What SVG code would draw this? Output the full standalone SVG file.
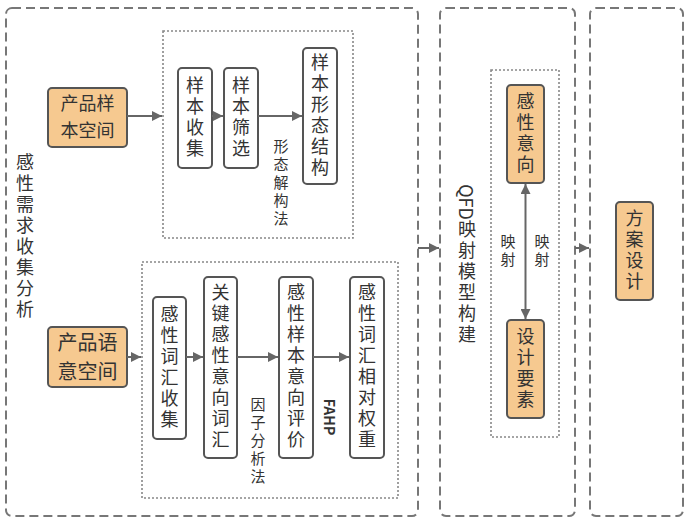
<svg xmlns="http://www.w3.org/2000/svg" width="690" height="520" viewBox="0 0 690 520">
<style>
text{font-family:"Noto Sans CJK SC","Noto Sans",sans-serif;fill:#333;}
.v{writing-mode:vertical-rl;text-anchor:middle;font-size:18px;letter-spacing:3px;}
.lbl{writing-mode:vertical-rl;text-anchor:middle;font-size:15px;letter-spacing:3px;}
.fahp{writing-mode:vertical-rl;text-anchor:middle;font-size:14px;font-weight:bold;letter-spacing:0;}
.h{text-anchor:middle;}
.outer{fill:none;stroke:#777;stroke-width:2;stroke-dasharray:9 5;}
.inner{fill:none;stroke:#888;stroke-width:1.6;stroke-dasharray:2 2;}
.node{fill:#fff;stroke:#555;stroke-width:2;}
.key{fill:#f6c990;stroke:#555;stroke-width:2;}
.arr{stroke:#666;stroke-width:2;fill:none;marker-end:url(#ah);}
</style>
<defs>
<marker id="ah" viewBox="0 0 10 10" refX="10" refY="5" markerWidth="5" markerHeight="5" orient="auto-start-reverse" markerUnits="strokeWidth">
<path d="M0,0 L10,5 L0,10 z" fill="#666"/>
</marker>
</defs>
<rect width="690" height="520" fill="#fff"/>

<g id="stage1">
<rect class="outer" x="6" y="8" width="412" height="508" rx="6"/>
<text class="v" x="25" y="237">感性需求收集分析</text>
</g>
<g id="stage2">
<rect class="outer" x="440" y="8" width="135" height="508" rx="6"/>
<text class="v" x="467" y="265"><tspan style="letter-spacing:0">QFD</tspan>映射模型构建</text>
</g>
<g id="stage3">
<rect class="outer" x="590" y="8" width="93" height="508" rx="6"/>
</g>

<g id="group-top"><rect class="inner" x="163" y="31" width="190" height="207"/></g>
<g id="group-bottom"><rect class="inner" x="142" y="262" width="256" height="236"/></g>
<g id="group-qfd"><rect class="inner" x="491" y="70" width="68" height="367"/></g>

<g id="n-sample-space">
<rect class="key" x="48" y="88" width="79" height="59" rx="4"/>
<text class="h" x="87.5" y="110" font-size="18">产品样<tspan x="87.5" dy="26.5">本空间</tspan></text>
</g>
<g id="n-sample-collect">
<rect class="node" x="178" y="68" width="34" height="100" rx="4"/>
<text class="v" x="195" y="118">样本收集</text>
</g>
<g id="n-sample-filter">
<rect class="node" x="224" y="68" width="34" height="100" rx="4"/>
<text class="v" x="241" y="118">样本筛选</text>
</g>
<g id="n-sample-form">
<rect class="node" x="303" y="48" width="34" height="136" rx="4"/>
<text class="v" x="320" y="116">样本形态结构</text>
</g>

<g id="n-semantic-space">
<rect class="key" x="48" y="327" width="79" height="60" rx="4"/>
<text class="h" x="87.5" y="350" font-size="20">产品语<tspan x="87.5" dy="29">意空间</tspan></text>
</g>
<g id="n-word-collect">
<rect class="node" x="153" y="297" width="33" height="142" rx="4"/>
<text class="v" x="169.5" y="368">感性词汇收集</text>
</g>
<g id="n-key-words">
<rect class="node" x="204" y="277" width="33" height="181" rx="4"/>
<text class="v" x="220.5" y="367.5">关键感性意向词汇</text>
</g>
<g id="n-evaluation">
<rect class="node" x="279" y="277" width="34" height="181" rx="4"/>
<text class="v" x="296" y="367.5">感性样本意向评价</text>
</g>
<g id="n-weights">
<rect class="node" x="350" y="277" width="34" height="181" rx="4"/>
<text class="v" x="367" y="367.5">感性词汇相对权重</text>
</g>

<g id="n-intent">
<rect class="key" x="507" y="85" width="37" height="98" rx="4"/>
<text class="v" x="525.5" y="134">感性意向</text>
</g>
<g id="n-design-elements">
<rect class="key" x="507" y="320" width="37" height="98" rx="4"/>
<text class="v" x="525.5" y="369">设计要素</text>
</g>
<g id="n-scheme">
<rect class="key" x="616" y="202" width="37" height="98" rx="4"/>
<text class="v" x="634.5" y="251">方案设计</text>
</g>

<g id="connectors">
<line class="arr" x1="127" y1="116" x2="162" y2="116"/>
<line class="arr" x1="212" y1="116" x2="223" y2="116"/>
<line class="arr" x1="258" y1="116" x2="302" y2="116"/>
<line class="arr" x1="127" y1="357" x2="141" y2="357"/>
<line class="arr" x1="186" y1="357" x2="203" y2="357"/>
<line class="arr" x1="237" y1="357" x2="278" y2="357"/>
<line class="arr" x1="313" y1="357" x2="349" y2="357"/>
<line class="arr" x1="418" y1="248" x2="439" y2="248"/>
<line class="arr" x1="575" y1="248" x2="589" y2="248"/>
<line class="arr" x1="525.5" y1="184" x2="525.5" y2="319" marker-start="url(#ah)"/>
<text class="lbl" x="281" y="184">形态解构法</text>
<text class="lbl" x="258" y="442">因子分析法</text>
<text class="fahp" x="330" y="417">FAHP</text>
<text class="lbl" x="508" y="252">映射</text>
<text class="lbl" x="542" y="252">映射</text>
</g>
</svg>
